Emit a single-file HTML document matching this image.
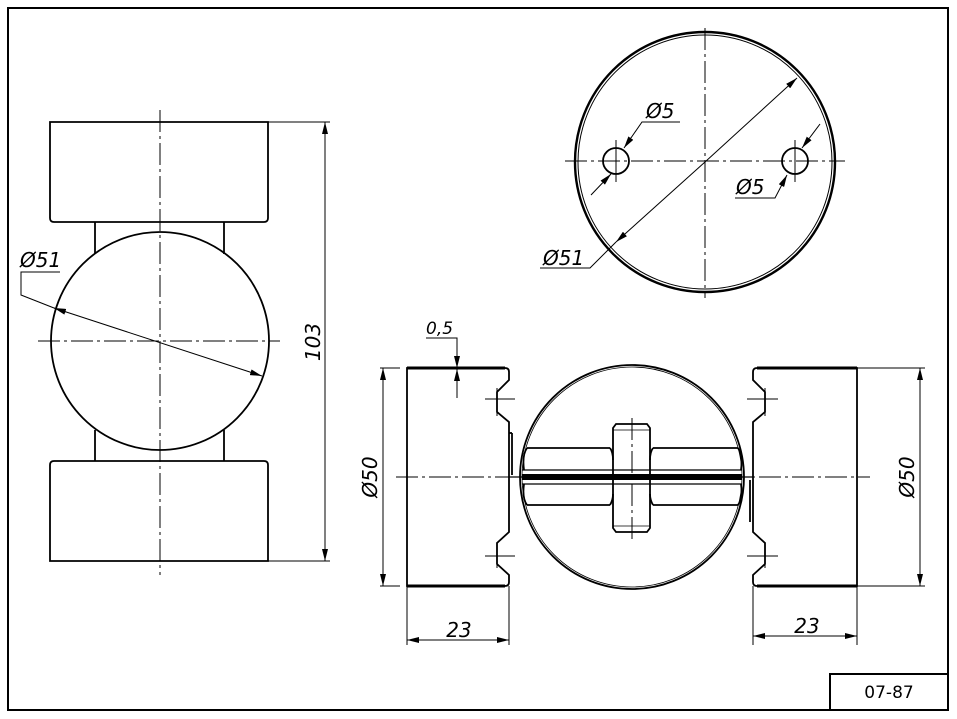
<!DOCTYPE html>
<html><head><style>
html,body{margin:0;padding:0;background:#fff}
svg{display:block}
text{font-family:"DejaVu Sans","Liberation Sans",sans-serif;font-style:italic;fill:#000}
</style></head><body>
<svg width="957" height="719" viewBox="0 0 957 719" xmlns="http://www.w3.org/2000/svg">
<defs>
<marker id="a" viewBox="0 0 12 6" refX="12" refY="3" markerWidth="12" markerHeight="6" orient="auto-start-reverse" markerUnits="userSpaceOnUse"><path d="M0,0 L12,3 L0,6z" fill="#000"/></marker>
</defs>
<rect x="8" y="8" width="940" height="702" fill="none" stroke="#000" stroke-width="2"/>
<rect x="830" y="674" width="118" height="36" fill="none" stroke="#000" stroke-width="2"/>
<text x="889" y="698" font-size="17" text-anchor="middle" style="font-style:normal">07-87</text>

<g fill="none" stroke="#000" stroke-width="1.8">
<path d="M50,122 H268 V218 Q268,222 264,222 H54 Q50,222 50,218 Z"/>
<path d="M54,461 H264 Q268,461 268,465 V561 H50 V465 Q50,461 54,461 Z"/>
<line x1="95" y1="222" x2="95" y2="254"/><line x1="224" y1="222" x2="224" y2="254"/>
<line x1="95" y1="430" x2="95" y2="461"/><line x1="224" y1="430" x2="224" y2="461"/>
<circle cx="160" cy="341" r="109"/>
<circle cx="705" cy="162" r="130" stroke-width="2.4"/>
<circle cx="705" cy="162" r="127" stroke-width="1"/>
<circle cx="616" cy="161" r="13"/>
<circle cx="795" cy="161" r="13"/>
<path d="M407,368 H505 Q509,368 509,372 V380 L497,392 V412 L509,422 V532 L497,543 V564 L509,575 V582 Q509,586 505,586 H407 Z"/>
<line x1="407" y1="368" x2="505" y2="368" stroke-width="3"/>
<line x1="407" y1="586" x2="505" y2="586" stroke-width="3"/>
<path d="M857,368 H757 Q753,368 753,372 V380 L765,392 V412 L753,422 V532 L765,543 V564 L753,575 V582 Q753,586 757,586 H857 Z"/>
<line x1="757" y1="368" x2="857" y2="368" stroke-width="3"/>
<line x1="757" y1="586" x2="857" y2="586" stroke-width="3"/>
<line x1="509" y1="433" x2="512" y2="433"/><line x1="512" y1="433" x2="512" y2="475"/>
<line x1="750" y1="480" x2="750" y2="522"/>
<circle cx="632" cy="477" r="112"/>
<circle cx="632" cy="477" r="110" stroke-width="0.8"/>
<path d="M527,448 H610 M653,448 H738 M527,505 H610 M653,505 H738"/>
<path d="M522,470 H742 M522,484 H742" stroke-width="1.2"/>
<path d="M509,477 H522 M742,477 H753" stroke-width="1.2"/>
<rect x="522" y="474" width="220" height="6" fill="#000" stroke="none"/>
<path d="M527,448 Q522,455 524,470 M738,448 Q743,455 741,470 M527,505 Q522,498 524,484 M738,505 Q743,498 741,484"/>
<path d="M616,424 H647 L650,428 V528 L647,532 H616 L613,528 V428 Z"/>
<path d="M613,430 H650 M613,526 H650" stroke-width="0.8"/>
<path d="M610,448 Q613,452 613,460 M653,448 Q650,452 650,460 M610,505 Q613,500 613,494 M653,505 Q650,500 650,494"/>
</g>

<g stroke="#000" stroke-width="1" stroke-dasharray="22,4,3,4" fill="none">
<line x1="160" y1="110" x2="160" y2="575"/>
<line x1="38" y1="341" x2="280" y2="341"/>
<line x1="705" y1="28" x2="705" y2="298"/>
<line x1="565" y1="161" x2="845" y2="161"/>
<line x1="396" y1="477" x2="870" y2="477"/>
<line x1="632" y1="418" x2="632" y2="540"/>
</g>
<g stroke="#000" stroke-width="1" fill="none">
<line x1="616" y1="140" x2="616" y2="182"/><line x1="795" y1="140" x2="795" y2="182"/>
<line x1="485" y1="399" x2="515" y2="399"/><line x1="497" y1="388" x2="497" y2="416"/>
<line x1="485" y1="556" x2="515" y2="556"/><line x1="497" y1="542" x2="497" y2="568"/>
<line x1="747" y1="399" x2="778" y2="399"/><line x1="765" y1="388" x2="765" y2="416"/>
<line x1="747" y1="556" x2="778" y2="556"/><line x1="765" y1="542" x2="765" y2="568"/>
</g>

<g stroke="#000" stroke-width="1" fill="none">
<line x1="268" y1="122" x2="330" y2="122"/><line x1="268" y1="561" x2="330" y2="561"/>
<line x1="325" y1="122" x2="325" y2="561" marker-start="url(#a)" marker-end="url(#a)"/>
<path d="M60,272 H21 V295 L54,308"/>
<line x1="54" y1="308" x2="262" y2="376" marker-end="url(#a)"/>
<line x1="66" y1="312" x2="54" y2="308" marker-end="url(#a)"/>
<line x1="400" y1="368" x2="380" y2="368"/><line x1="400" y1="586" x2="380" y2="586"/>
<line x1="383" y1="368" x2="383" y2="586" marker-start="url(#a)" marker-end="url(#a)"/>
<line x1="857" y1="368" x2="925" y2="368"/><line x1="857" y1="586" x2="925" y2="586"/>
<line x1="920" y1="368" x2="920" y2="586" marker-start="url(#a)" marker-end="url(#a)"/>
<line x1="407" y1="586" x2="407" y2="645"/><line x1="509" y1="586" x2="509" y2="645"/>
<line x1="407" y1="640" x2="509" y2="640" marker-start="url(#a)" marker-end="url(#a)"/>
<line x1="753" y1="586" x2="753" y2="645"/><line x1="857" y1="586" x2="857" y2="645"/>
<line x1="753" y1="636" x2="857" y2="636" marker-start="url(#a)" marker-end="url(#a)"/>
<path d="M426,338 H457 V368" marker-end="url(#a)"/>
<line x1="457" y1="398" x2="457" y2="369" marker-end="url(#a)"/>
<line x1="705" y1="162" x2="797" y2="78" marker-end="url(#a)"/>
<line x1="705" y1="162" x2="616" y2="242" marker-end="url(#a)"/>
<path d="M540,268 H590 L616,242"/>
<path d="M680,122 H642 L624,148" marker-end="url(#a)"/>
<line x1="591" y1="195" x2="611" y2="174" marker-end="url(#a)"/>
<path d="M735,198 H775 L787,175" marker-end="url(#a)"/>
<line x1="820" y1="124" x2="802" y2="148" marker-end="url(#a)"/>
</g>

<g font-size="20">
<text x="20" y="267">Ø51</text>
<text x="320" y="342" transform="rotate(-90 320 342)" text-anchor="middle">103</text>
<text x="646" y="118">Ø5</text>
<text x="736" y="194">Ø5</text>
<text x="543" y="265">Ø51</text>
<text x="426" y="334" font-size="17">0,5</text>
<text x="377" y="477" transform="rotate(-90 377 477)" text-anchor="middle">Ø50</text>
<text x="914" y="477" transform="rotate(-90 914 477)" text-anchor="middle">Ø50</text>
<text x="459" y="637" text-anchor="middle">23</text>
<text x="807" y="633" text-anchor="middle">23</text>
</g>
</svg>
</body></html>
